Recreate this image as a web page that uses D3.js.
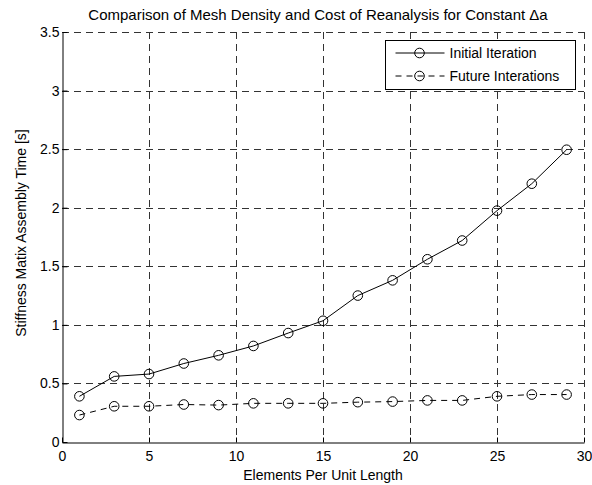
<!DOCTYPE html>
<html>
<head>
<meta charset="utf-8">
<script src="https://cdn.jsdelivr.net/npm/d3@7"></script>
<style>
  body { margin: 0; background: #fff; }
  text { font-family: "Liberation Sans", Arial, sans-serif; fill: #000; }
</style>
</head>
<body>
<div id="chart"></div>
<script>
// data
const elements = [1, 3, 5, 7, 9, 11, 13, 15, 17, 19, 21, 23, 25, 27, 29];
const initialIteration = [0.39, 0.56, 0.58, 0.67, 0.74, 0.82, 0.93, 1.035, 1.25, 1.38, 1.56, 1.72, 1.975, 2.205, 2.495];
const futureIterations = [0.23, 0.305, 0.305, 0.32, 0.315, 0.33, 0.33, 0.33, 0.34, 0.345, 0.355, 0.355, 0.39, 0.405, 0.405];
const xTicks = [0, 5, 10, 15, 20, 25, 30];
const yTicks = [0, 0.5, 1, 1.5, 2, 2.5, 3, 3.5];

const W = 592, H = 485;
const margin = { top: 32, right: 8, bottom: 43, left: 62 };
const width = W - margin.left - margin.right;
const height = H - margin.top - margin.bottom;
const fontSize = '14px';

const svg = d3.select('#chart').append('svg')
  .attr('width', W)
  .attr('height', H);

const g = svg.append('g').attr('transform', 'translate(' + margin.left + ',' + margin.top + ')');

const x = d3.scaleLinear().domain([0, 30]).range([0, width]);
const y = d3.scaleLinear().domain([0, 3.5]).range([height, 0]);

const px = v => Math.round(v) + 0.5;

// grid
g.append('g').selectAll('line')
  .data(xTicks.slice(1))
  .enter().append('line')
  .attr('x1', d => px(x(d))).attr('x2', d => px(x(d)))
  .attr('y1', 0).attr('y2', height)
  .attr('stroke', '#333').attr('stroke-dasharray', '7,5');

g.append('g').selectAll('line')
  .data(yTicks.slice(1))
  .enter().append('line')
  .attr('y1', d => px(y(d))).attr('y2', d => px(y(d)))
  .attr('x1', 0).attr('x2', width)
  .attr('stroke', '#333').attr('stroke-dasharray', '7,5');

// axes (ticks pointing in, like matlab)
const xAxis = g.append('g')
  .attr('transform', 'translate(0,' + px(height) + ')')
  .call(d3.axisBottom(x).tickValues(xTicks).tickSizeInner(-5).tickSizeOuter(0).tickPadding(7).tickFormat(d3.format('')));
const yAxis = g.append('g')
  .attr('transform', 'translate(' + 0.5 + ',0)')
  .call(d3.axisLeft(y).tickValues(yTicks).tickSizeInner(-5).tickSizeOuter(0).tickPadding(3).tickFormat(d3.format('')));

[xAxis, yAxis].forEach(function(a) {
  a.attr('font-size', null).attr('font-family', null);
  a.selectAll('text').style('font-size', fontSize);
  a.select('.domain').attr('stroke', '#000');
  a.selectAll('.tick line').attr('stroke', '#000');
});
xAxis.selectAll('.tick text').attr('dy', '0.85em');

// series
const line = d3.line()
  .x((d, i) => x(elements[i]))
  .y(d => y(d));

const series = [
  { name: 'Initial Iteration', values: initialIteration, dash: null },
  { name: 'Future Interations', values: futureIterations, dash: '6,5' }
];

series.forEach(function(s) {
  g.append('path')
    .datum(s.values)
    .attr('d', line)
    .attr('fill', 'none')
    .attr('stroke', '#000')
    .attr('stroke-width', 1)
    .attr('stroke-dasharray', s.dash);

  g.append('g').selectAll('circle')
    .data(s.values)
    .enter().append('circle')
    .attr('cx', (d, i) => x(elements[i]))
    .attr('cy', d => y(d))
    .attr('r', 4.8)
    .attr('fill', 'none')
    .attr('stroke', '#000');
});

// legend
const legend = svg.append('g').attr('transform', 'translate(385.5,40.5)');
legend.append('rect')
  .attr('width', 190).attr('height', 49)
  .attr('fill', '#fff').attr('stroke', '#000');

series.forEach(function(s, i) {
  const row = legend.append('g').attr('transform', 'translate(0,' + (12.5 + i * 23) + ')');
  row.append('line')
    .attr('x1', 10).attr('x2', 59).attr('y1', 0).attr('y2', 0)
    .attr('stroke', '#000')
    .attr('stroke-dasharray', s.dash);
  row.append('circle')
    .attr('cx', 34).attr('cy', 0).attr('r', 4.8)
    .attr('fill', 'none').attr('stroke', '#000');
  row.append('text')
    .attr('x', 64).attr('y', 0).attr('dy', '0.36em')
    .style('font-size', fontSize)
    .text(s.name);
});

// titles
svg.append('text')
  .attr('x', 318).attr('y', 20)
  .attr('text-anchor', 'middle')
  .style('font-size', '15px')
  .text('Comparison of Mesh Density and Cost of Reanalysis for Constant \u0394a');

svg.append('text')
  .attr('x', margin.left + width / 2).attr('y', 480)
  .attr('text-anchor', 'middle')
  .style('font-size', fontSize)
  .text('Elements Per Unit Length');

svg.append('text')
  .attr('transform', 'translate(26,' + 233 + ') rotate(-90)')
  .attr('text-anchor', 'middle')
  .style('font-size', fontSize)
  .text('Stiffness Matix Assembly Time [s]');
</script>
</body>
</html>
